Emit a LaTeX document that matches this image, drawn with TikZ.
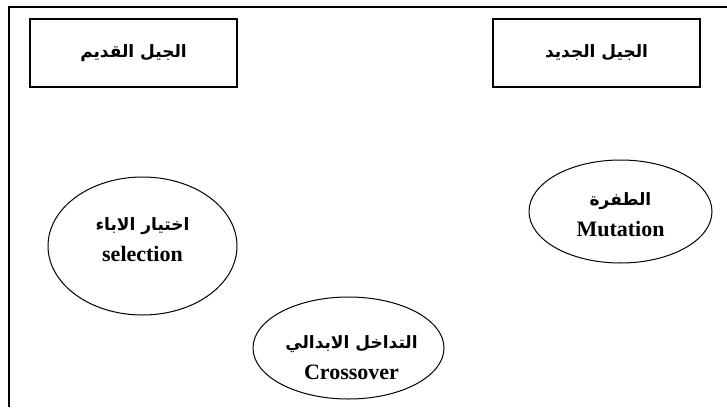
\documentclass[tikz,border=0pt]{standalone}
\usepackage{fontspec}
\usepackage{tikz}
\usetikzlibrary{shapes.geometric}
\setmainfont{Liberation Serif}
\newfontfamily\arabicfont[Script=Arabic]{DejaVu Sans}
\TeXXeTstate=1
\definecolor{ink}{HTML}{000000}
\tikzset{
  frame/.style={draw=ink, line width=2pt},
  genbox/.style={draw=ink, line width=1.3pt, minimum width=207pt, minimum height=68pt, inner sep=0pt,
    font=\arabicfont\bfseries\fontsize{17}{19}\selectfont},
  opnode/.style={ellipse, draw=ink, line width=1pt, inner sep=0pt},
  optext/.style={align=center, inner sep=0pt, font=\bfseries\fontsize{22}{31}\selectfont},
}
\newcommand{\ar}[1]{{\arabicfont\fontsize{17}{19}\selectfont\beginR #1\endR}}

\begin{document}
\begin{tikzpicture}[x=1pt, y=-1pt]
\useasboundingbox (0,0) rectangle (727,407);
\draw[frame] (727,7) -- (9,7) -- (9,407);
% generations
\node[genbox] (old) at (133.5,53) {\beginR الجيل القديم\endR};
\node[genbox] (new) at (596.5,53) {\beginR الجيل الجديد\endR};
% operators
\node[opnode, minimum width=189pt, minimum height=138pt] (sel) at (142.5,246) {};
\node[opnode, minimum width=191pt, minimum height=102pt] (cross) at (348.5,348) {};
\node[opnode, minimum width=183pt, minimum height=103pt] (mut) at (620.5,211.5) {};
\node[optext] (seltext) at ([yshift=6pt]sel.center) {\ar{اختيار الاباء}\\selection};
\node[optext] (crosstext) at ([xshift=3pt, yshift=-10pt]cross.center) {\ar{التداخل الابدالي}\\Crossover};
\node[optext] (muttext) at ([yshift=-3pt]mut.center) {\ar{الطفرة}\\Mutation};
\end{tikzpicture}
\end{document}
